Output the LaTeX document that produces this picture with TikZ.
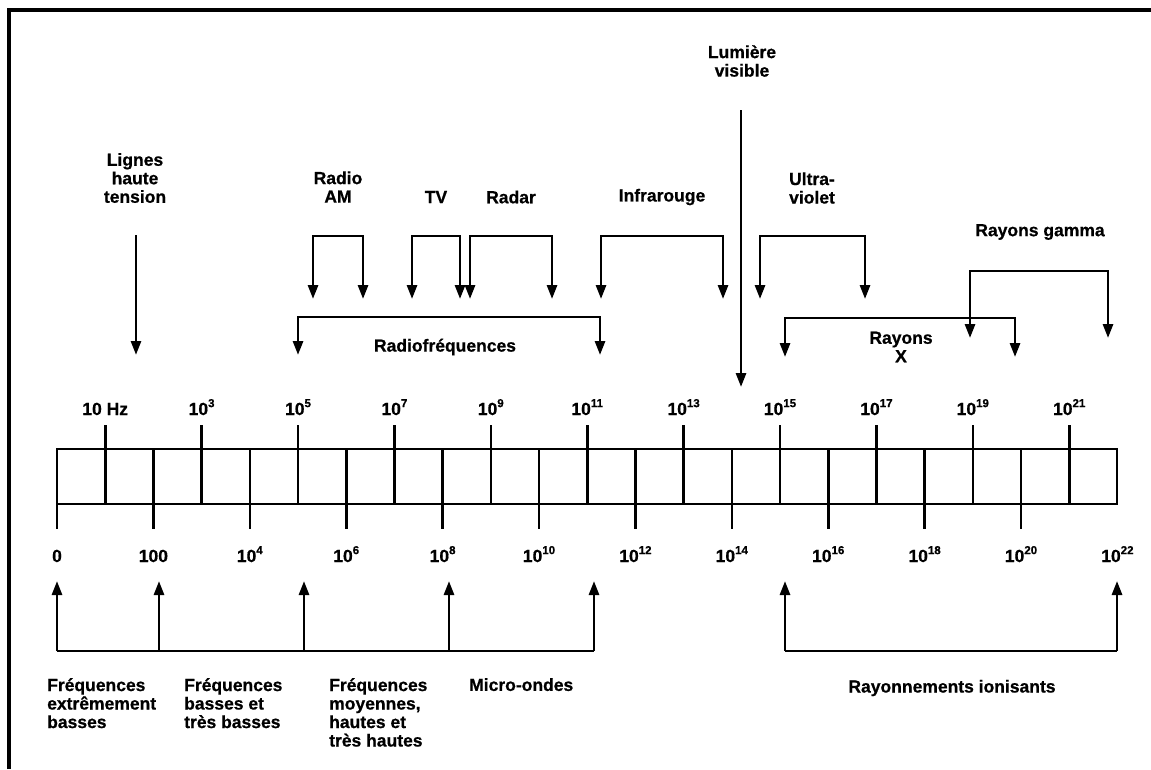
\documentclass[tikz,border=0pt]{standalone}
\usepackage{fontspec}
\setmainfont{Liberation Sans}[BoldFeatures={FakeBold=0.7}]
\usetikzlibrary{arrows.meta}
\newcommand{\ex}[1]{10\raisebox{0.45em}{\fontsize{11.5}{12}\selectfont #1}}
\begin{document}
\begin{tikzpicture}[x=1pt,y=-1pt,
  lbl/.style={font=\fontsize{17.5}{18.5}\selectfont\bfseries, align=center, inner sep=0pt},
  lbll/.style={lbl, align=left, anchor=north west},
  sl/.style={font=\fontsize{17.5}{18.5}\selectfont\bfseries, inner sep=0pt, anchor=base},
  ln/.style={line width=2.8pt, line join=miter},
  tk/.style={line width=2.6pt},
  arr/.style={line width=2.8pt, line join=miter, -{Triangle[width=10pt,length=14pt]}},
  brk/.style={line width=2.8pt, line join=miter, {Triangle[width=10pt,length=14pt]}-{Triangle[width=10pt,length=14pt]}},
  frame/.style={line width=3.2pt}]
\useasboundingbox (0,0) rectangle (1151,769);
\fill[white] (0,0) rectangle (1151,769);
% frame
\draw[frame] (9,769) -- (9,10) -- (1151,10);

% top labels
\node[lbl] (lignes) at (135,178) {Lignes\\haute\\tension};
\node[lbl] (radio) at (338,187) {Radio\\AM};
\node[lbl] (tv) at (436,197) {TV};
\node[lbl] (radar) at (511,197) {Radar};
\node[lbl] (ir) at (662,197) {Infrarouge};
\node[lbl] (lum) at (742,61) {Lumière\\visible};
\node[lbl, align=left] (uv) at (812,188) {Ultra-\\violet};
\node[lbl] (gamma) at (1040,232) {Rayons gamma};
\node[lbl] (rf) at (445,347) {Radiofréquences};
\node[lbl] (rx) at (901,347) {Rayons\\X};

% single arrows
\coordinate (lgA) at (136,235); \coordinate (lgB) at (136,355);
\draw[arr] (lgA) -- (lgB);
\coordinate (lmA) at (741,110); \coordinate (lmB) at (741,387);
\draw[arr] (lmA) -- (lmB);

% top brackets
\coordinate (amL) at (313,299); \coordinate (amR) at (363,299);
\draw[brk] (amL) -- (313,236) -- (363,236) -- (amR);
\coordinate (tvL) at (412,299); \coordinate (tvR) at (460,299);
\draw[brk] (tvL) -- (412,236) -- (460,236) -- (tvR);
\coordinate (raL) at (470,299); \coordinate (raR) at (552,299);
\draw[brk] (raL) -- (470,236) -- (552,236) -- (raR);
\coordinate (irL) at (601,299); \coordinate (irR) at (723,299);
\draw[brk] (irL) -- (601,236) -- (723,236) -- (irR);
\coordinate (uvL) at (760,299); \coordinate (uvR) at (865,299);
\draw[brk] (uvL) -- (760,236) -- (865,236) -- (uvR);
\coordinate (rfL) at (298,355); \coordinate (rfR) at (600,355);
\draw[brk] (rfL) -- (298,317) -- (600,317) -- (rfR);
\coordinate (rxL) at (785,357); \coordinate (rxR) at (1015,357);
\draw[brk] (rxL) -- (785,318) -- (1015,318) -- (rxR);
\coordinate (gaL) at (970,338); \coordinate (gaR) at (1108,338);
\draw[brk] (gaL) -- (970,271) -- (1108,271) -- (gaR);

% scale
\draw[tk] (57,449) rectangle (1117,504);
\foreach \i in {1,3,...,21} \draw[tk] ({57+48.2*\i},425) -- ({57+48.2*\i},504);
\foreach \i in {0,2,...,20} \draw[tk] ({57+48.2*\i},449) -- ({57+48.2*\i},529);
\node[sl] (t1) at ({57+48.2},415) {10 Hz};
\foreach \i in {3,5,...,21} \node[sl] (t\i) at ({57+48.2*\i},415) {\ex{\i}};
\node[sl] (b0) at (57,562) {0};
\node[sl] (b2) at ({57+48.2*2},562) {100};
\foreach \i in {4,6,...,22} \node[sl] (b\i) at ({57+48.2*\i},562) {\ex{\i}};

% bottom brackets
\coordinate (u1) at (57,581); \coordinate (u2) at (159,581); \coordinate (u3) at (304,581);
\coordinate (u4) at (449,581); \coordinate (u5) at (594,581);
\coordinate (u6) at (785,581); \coordinate (u7) at (1117,581);
\draw[ln] (57,651) -- (594,651);
\foreach \p in {u1,u2,u3,u4,u5} \draw[arr] (\p |- 0,651) -- (\p);
\draw[ln] (785,651) -- (1117,651);
\foreach \p in {u6,u7} \draw[arr] (\p |- 0,651) -- (\p);

% bottom labels
\node[lbll] (f1) at (47,678) {Fréquences\\extrêmement\\basses};
\node[lbll] (f2) at (184,678) {Fréquences\\basses et\\très basses};
\node[lbll] (f3) at (329,678) {Fréquences\\moyennes,\\hautes et\\très hautes};
\node[lbll] (f4) at (469,678) {Micro-ondes};
\node[lbl] (ion) at (952,688) {Rayonnements ionisants};
\end{tikzpicture}
\end{document}
